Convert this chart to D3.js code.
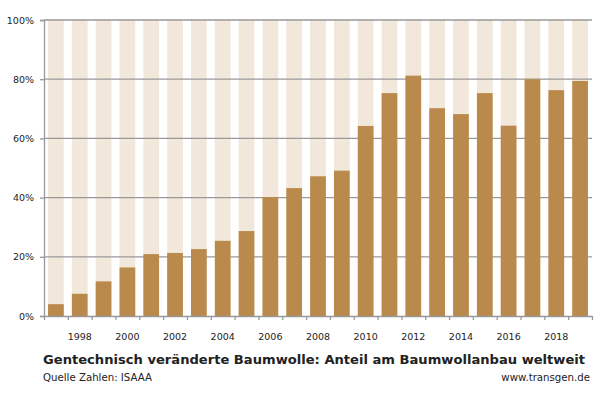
<!DOCTYPE html>
<meta charset="utf-8">
<style>
body { margin: 0; background: #fff; }
svg text { font-family: "DejaVu Sans", Verdana, sans-serif; fill: #222; }
.axis text { font-size: 9.5px; }
.axis path, .axis line { fill: none; stroke: #999; stroke-width: 1.3; }
</style>
<svg id="chart" width="610" height="407"></svg>
<script src="https://d3js.org/d3.v7.min.js"></script>
<script>

var years = [1997, 1998, 1999, 2000, 2001, 2002, 2003, 2004, 2005, 2006, 2007, 2008,
             2009, 2010, 2011, 2012, 2013, 2014, 2015, 2016, 2017, 2018, 2019];
var share = [4, 7.5, 11.7, 16.4, 20.9, 21.3, 22.6, 25.4, 28.7, 40.2, 43.2, 47.2,
             49.1, 64.2, 75.3, 81.2, 70.2, 68.2, 75.3, 64.3, 80, 76.3, 79.4];
var yTicks = [0, 20, 40, 60, 80, 100];
var xLabels = [1998, 2000, 2002, 2004, 2006, 2008, 2010, 2012, 2014, 2016, 2018];

var title = "Gentechnisch veränderte Baumwolle: Anteil am Baumwollanbau weltweit";
var source = "Quelle Zahlen: ISAAA";
var site = "www.transgen.de";

var margin = {top: 20, right: 18, bottom: 91, left: 44},
    width = 610 - margin.left - margin.right,
    height = 407 - margin.top - margin.bottom;

var svg = d3.select("#chart");
var chart = svg.append("g")
    .attr("transform", "translate(" + margin.left + "," + margin.top + ")");

var x = d3.scaleBand()
    .domain(years)
    .range([0, width])
    .paddingInner(0.34)
    .paddingOuter(0.17);

var y = d3.scaleLinear()
    .domain([0, 100])
    .range([height, 0]);

// light background columns (100%)
chart.selectAll(".bg")
    .data(years)
  .enter().append("rect")
    .attr("class", "bg")
    .attr("x", function(d) { return x(d); })
    .attr("y", y(100))
    .attr("width", x.bandwidth())
    .attr("height", height - y(100))
    .attr("fill", "#f2e7db");

// gridlines
chart.selectAll(".grid")
    .data(yTicks.slice(1))
  .enter().append("line")
    .attr("class", "grid")
    .attr("x1", 0)
    .attr("x2", width)
    .attr("y1", function(d) { return y(d); })
    .attr("y2", function(d) { return y(d); })
    .attr("stroke", "#999")
    .attr("stroke-width", 1.3);

// actual share bars
chart.selectAll(".bar")
    .data(share)
  .enter().append("rect")
    .attr("class", "bar")
    .attr("x", function(d, i) { return x(years[i]); })
    .attr("y", function(d) { return y(d); })
    .attr("width", x.bandwidth())
    .attr("height", function(d) { return height - y(d); })
    .attr("fill", "#b98a4b");

// y axis
var yAxis = d3.axisLeft(y)
    .tickValues(yTicks)
    .tickSize(4)
    .tickPadding(6)
    .tickFormat(function(d) { return d + "%"; });
chart.append("g")
    .attr("class", "axis")
    .call(yAxis);

// x axis: ticks at band boundaries, labels every two years
var xb = d3.scaleLinear().domain([0, years.length]).range([0, width]);
var xAxis = d3.axisBottom(xb)
    .tickValues(d3.range(0, years.length + 1))
    .tickSize(4)
    .tickSizeOuter(0)
    .tickFormat("");
var xg = chart.append("g")
    .attr("class", "axis")
    .attr("transform", "translate(0," + height + ")")
    .call(xAxis);
xg.selectAll(".lbl")
    .data(xLabels)
  .enter().append("text")
    .attr("class", "lbl")
    .attr("x", function(d) { return x(d) + x.bandwidth() / 2; })
    .attr("y", 24)
    .attr("text-anchor", "middle")
    .text(function(d) { return d; });

// texts
svg.append("text")
    .attr("x", 43)
    .attr("y", 364)
    .attr("font-size", "13.1px")
    .attr("font-weight", "bold")
    .attr("fill", "#111")
    .text(title);

svg.append("text")
    .attr("x", 43)
    .attr("y", 381)
    .attr("font-size", "10.2px")
    .text(source);

svg.append("text")
    .attr("x", 590)
    .attr("y", 381)
    .attr("font-size", "10.2px")
    .attr("text-anchor", "end")
    .text(site);

</script>
